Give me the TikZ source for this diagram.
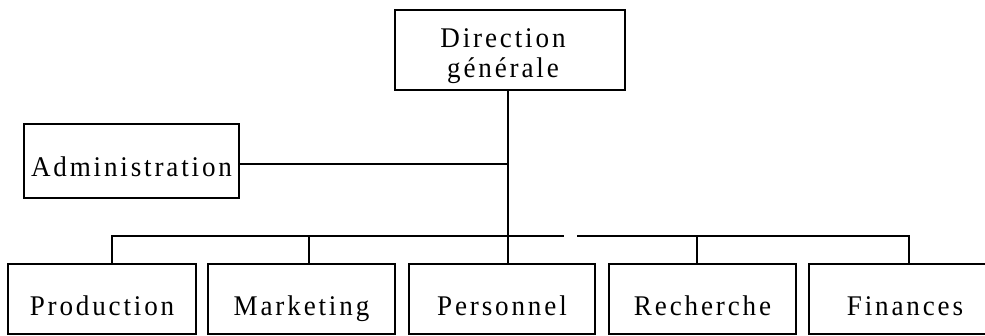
\documentclass[tikz,border=0pt]{standalone}
\usepackage{fontspec}
\setmainfont{Liberation Serif}[LetterSpace=10,FakeStretch=0.95]
\begin{document}
\begin{tikzpicture}[x=1pt,y=-1pt,
  box/.style={draw, line width=1.5pt, inner sep=0pt, font=\fontsize{28.5}{30}\selectfont},
  unit/.style={box, text height=34pt, text depth=0pt, minimum height=70pt},
  link/.style={line width=1.5pt}]
\useasboundingbox (0,0) rectangle (985,336);
\node[box, text height=26pt, text depth=0pt, minimum width=230pt, minimum height=80pt] (dg) at (510,50)
  {\hspace*{-14pt}\begin{tabular}{@{}c@{}}Direction\\générale\end{tabular}};
\node[box, text height=32pt, text depth=0pt, minimum width=215pt, minimum height=74pt] (adm) at (131.5,161) {Administration};
\node[unit, minimum width=188pt] (prod) at (102,299) {Production};
\node[unit, minimum width=187pt] (mark) at (301.5,299) {Marketing};
\node[unit, minimum width=186pt] (pers) at (502,299) {Personnel};
\node[unit, minimum width=187pt] (rech) at (702.5,299) {Recherche};
\node[unit, minimum width=192pt] (fin) at (905,299) {Finances};
\coordinate (gapL) at (564,236);
\coordinate (gapR) at (577,236);
\draw[link] ([xshift=-2pt]dg.south) -- ([xshift=-2pt]dg.south |- pers.north);
\draw[link] ([yshift=-3pt]adm.east) -- ([xshift=-2pt,yshift=-3pt]adm.east -| dg.south);
\draw[link] ([xshift=10pt]prod.north) |- (gapL);
\draw[link] ([xshift=7.5pt]mark.north) -- ([xshift=7.5pt]mark.north |- gapL);
\draw[link] ([xshift=-5.5pt]rech.north) -- ([xshift=-5.5pt]rech.north |- gapR);
\draw[link] ([xshift=4pt]fin.north) |- (gapR);
\end{tikzpicture}
\end{document}
